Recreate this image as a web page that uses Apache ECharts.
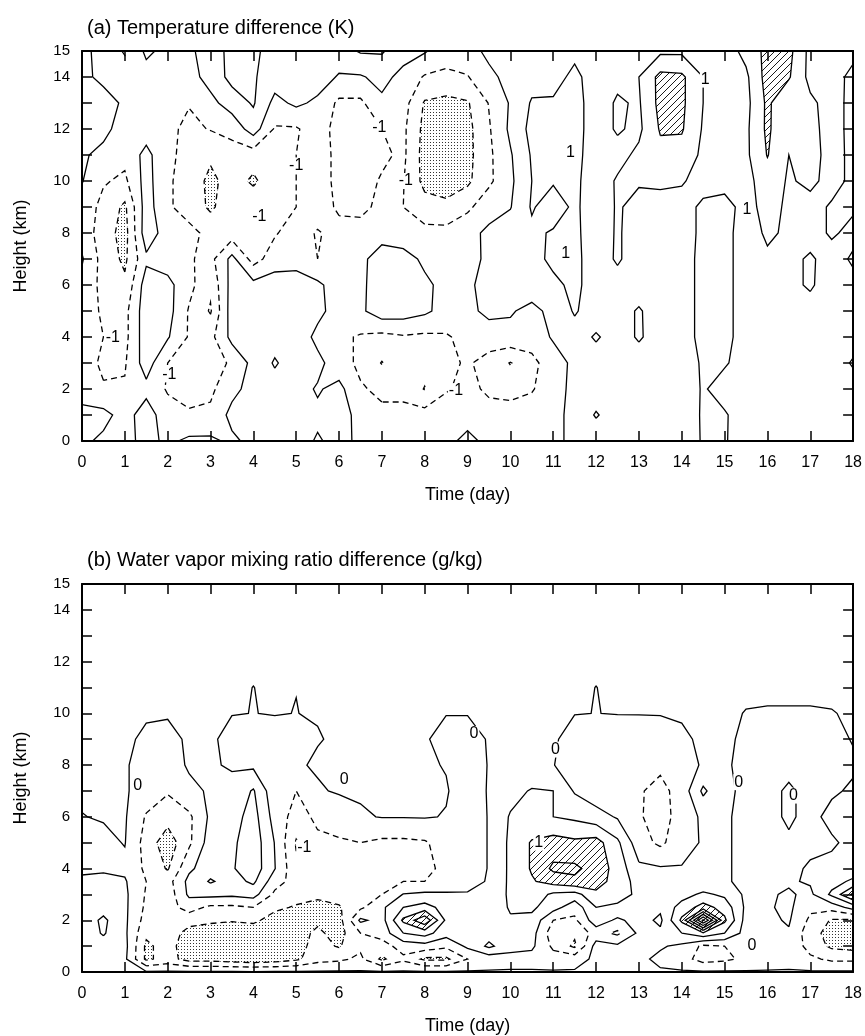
<!DOCTYPE html>
<html>
<head>
<meta charset="utf-8">
<script src="https://cdn.jsdelivr.net/npm/echarts@6/dist/echarts.min.js"></script>
<style>
  html, body { margin: 0; padding: 0; background: #fff; }
  #chart { width: 865px; height: 1036px; }
</style>
</head>
<body>
<div id="chart"></div>
<script>
// ---- grid coordinates ----
const days = [0,0.5,1,1.5,2,2.5,3,3.5,4,4.5,5,5.5,6,6.5,7,7.5,8,8.5,9,9.5,10,10.5,11,11.5,12,12.5,13,13.5,14,14.5,15,15.5,16,16.5,17,17.5,18];
const heightsA = [0,1,2,3,4,5,6,7,8,9,10,11,12,13,14,15];
const heightsB = [0,0.5,1,1.5,2,2.5,3,3.5,4,5,6,7,8,9,10,11,12,13,14,15];

// ---- (a) temperature difference (K), one row per height in heightsA, one column per day ----
const tempDiff = [
  [0.2,-0.2,-0.3,0.3,-0.2,0.2,0.2,-0.2,0.3,0.3,0.4,-0.1,0.3,-0.2,-0.3,-0.3,-0.4,-0.2,0.2,-0.2,-0.2,-0.2,-0.1,0.1,0.3,0.4,0.4,0.3,0.4,1.1,1.1,0.4,0.4,0.4,0.3,0.4,0.3],
  [0.2,0.3,-0.4,0.5,-0.6,-0.9,-0.8,0.3,0.5,0.6,0.5,0.2,0.4,-0.3,-0.8,-0.7,-0.6,-0.4,-0.3,-0.6,-0.5,-0.4,-0.2,0.2,1.1,0.4,0.5,0.5,0.5,1.1,1.1,0.5,0.5,0.5,0.5,0.5,0.5],
  [-0.3,-0.9,-0.9,-0.3,-1.1,-1.3,-1.2,-0.3,0.4,0.6,0.4,-0.1,0.3,-0.9,-1.2,-1.3,-2.05,-1.1,-0.7,-1.2,-1.4,-1.1,-0.3,0.2,0.4,0.5,0.5,0.5,0.4,1.1,0.6,0.5,0.5,0.5,0.5,0.5,0.6],
  [-0.5,-1.2,-1.1,0.5,-1.0,-1.3,-1.6,-0.8,0.3,1.1,0.5,0.3,-0.6,-1.2,-2.05,-1.3,-1.6,-1.2,-0.9,-1.3,-2.05,-1.3,-0.4,0.2,0.6,0.5,0.6,0.5,0.6,1.1,1.1,0.6,0.6,0.5,0.6,0.5,1.1],
  [-0.4,-1.0,-1.3,0.6,0.1,-1.1,-1.3,0.3,0.5,0.6,0.7,-0.3,-0.8,-1.1,-1.3,-1.1,-1.2,-1.1,-0.7,-0.6,-0.3,-0.5,0.1,0.6,1.1,0.6,1.1,0.6,0.7,1.2,1.2,0.7,0.8,0.8,0.7,0.6,0.6],
  [-0.3,-1.2,-1.3,0.6,0.4,-1.1,-2.1,0.5,0.4,0.6,0.6,0.3,-0.5,-0.2,0.6,0.5,0.2,-0.4,-0.3,0.3,0.1,-0.3,0.3,1.1,0.5,0.6,1.1,0.5,0.7,1.2,1.2,0.7,0.8,0.8,0.7,0.6,0.6],
  [-0.3,-1.3,-1.8,0.5,0.3,-0.7,-1.8,0.4,0.3,0.5,0.5,0.2,-0.5,-0.2,0.5,0.6,0.2,-0.3,-0.2,0.4,0.6,0.6,0.8,1.2,0.6,0.7,0.5,0.4,0.7,1.2,1.2,0.7,0.8,0.8,1.1,0.6,0.8],
  [0.1,-1.4,-2.2,-0.2,-0.5,-0.9,-1.3,0.3,-1.4,-0.5,-0.4,-1.0,-0.6,-0.3,0.6,0.4,-0.2,-0.6,-0.5,0.3,0.6,0.7,1.2,1.2,0.6,1.1,0.6,0.4,0.7,1.2,1.2,0.7,0.9,0.8,1.1,0.7,1.1],
  [-0.4,-1.5,-2.4,0.6,-0.5,-0.8,-1.2,-1.5,-1.6,-1.1,-0.5,-1.1,-0.6,-0.7,-0.5,-0.6,-0.7,-0.7,-0.3,0.2,0.5,0.8,1.1,1.2,0.5,1.1,0.6,0.5,0.6,1.2,1.2,0.7,1.1,0.9,0.7,1.1,0.8],
  [-0.4,-1.3,-2.2,0.5,-0.9,-1.3,-2.2,-1.3,-1.2,-1.2,-1.0,-0.4,-1.2,-1.2,-0.8,-1.0,-1.6,-1.7,-1.2,-0.4,-0.05,1.1,0.5,1.2,0.4,1.1,0.7,0.6,0.6,1.2,1.2,0.8,1.2,0.9,0.7,1.1,1.1],
  [0.05,-0.9,-1.2,0.4,-0.9,-1.3,-2.3,-1.5,-2.2,-1.3,-1.0,-0.5,-1.3,-1.4,-0.9,-0.95,-2.3,-2.6,-2.2,-1.2,-0.2,1.0,1.1,1.2,0.5,1.1,1.1,1.2,1.1,0.6,0.8,0.7,1.5,0.9,1.2,0.7,1.2],
  [0.15,-0.3,-0.7,0.3,-0.8,-1.3,-1.8,-1.4,-1.5,-1.2,-1.0,-0.5,-1.3,-1.5,-1.2,-0.8,-2.4,-2.7,-2.3,-1.2,-0.1,1.1,1.2,1.3,0.5,0.7,1.2,1.7,1.6,0.8,0.6,0.8,2.05,1.0,1.3,0.7,1.2],
  [0.5,0.3,-0.5,-0.5,-0.8,-1.2,-0.95,-0.7,0.5,-1.1,-1.1,-0.5,-1.4,-1.5,-1.0,-0.8,-2.3,-2.5,-2.3,-1.1,0.2,1.3,1.3,1.3,0.6,1.1,0.8,2.1,2.1,0.9,0.6,0.8,2.2,1.0,1.3,0.6,1.3],
  [0.4,0.5,-0.2,-0.5,-0.6,-0.95,-0.3,0.5,1.1,-0.3,0.2,-0.2,-1.2,-1.2,-0.2,-0.6,-2.1,-2.3,-2.1,-0.95,0.1,1.1,1.1,1.3,0.6,1.1,0.9,2.3,2.2,1.0,0.6,0.7,2.2,1.1,1.2,0.6,1.3],
  [0.3,-0.3,-0.5,-0.4,-0.5,-0.4,0.4,1.3,1.1,0.5,0.8,0.5,-0.1,-0.1,0.3,-0.3,-1.1,-1.2,-1.05,-0.3,0.4,0.6,0.7,1.2,0.6,0.8,1.0,2.3,2.2,1.0,0.6,0.8,2.4,2.1,0.7,0.7,1.2],
  [0.3,-0.4,-1.1,0.2,-0.3,-0.2,0.5,1.3,1.2,0.6,0.8,0.7,0.6,1.1,1.1,0.4,0.1,-0.6,-0.5,0.3,0.5,0.6,0.5,0.8,0.6,0.7,0.9,0.8,0.8,0.9,0.5,1.3,2.3,2.3,0.7,0.6,0.8]
];

// ---- (b) water vapor mixing ratio difference (g/kg), one row per height in heightsB ----
const qvDiff = [
  [0.05,0.05,0.05,0.05,0.05,0.05,0.05,0.05,0.05,0.05,0.05,0.05,0.05,0.05,0.05,0.05,0.05,0.05,0.05,0.05,0.05,0.05,0.05,0.05,0.05,0.05,0.05,0.05,0.05,0.05,0.05,0.05,0.05,0.05,0.05,0.05,0.05],
  [0.1,0.2,0.1,-1.1,-0.8,-1.2,-1.2,-1.3,-1.4,-1.3,-1.1,-0.7,-0.6,-0.4,-1.1,-0.6,-1.1,-1.1,-0.5,-0.3,-0.2,-0.2,-0.3,-0.2,0.1,0.1,0.1,-0.1,-0.3,-0.7,-0.6,-0.4,-0.3,-0.2,-0.4,-0.6,-0.6],
  [0.15,0.3,0.15,-1.1,-0.8,-1.3,-1.4,-1.5,-1.5,-1.4,-1.2,-0.8,-1.05,-0.6,-0.7,-0.3,-0.2,-0.4,0.1,0.6,0.2,0.1,-0.6,-1.1,0.2,0.1,0.15,0.05,-0.1,-0.6,-0.5,-0.02,-0.2,-0.1,-0.7,-1.1,-1.2],
  [0.2,0.55,0.1,-0.9,-0.7,-1.2,-1.3,-1.4,-1.3,-1.2,-1.2,-0.9,-1.2,-0.5,-0.3,0.5,0.7,0.2,0.2,0.3,0.3,0.2,-0.8,-0.9,-0.3,-0.6,0.1,0.1,0.5,0.9,0.5,-0.2,-0.1,-0.05,-0.8,-1.2,-1.3],
  [0.2,0.6,0.1,-0.7,-0.6,-0.8,-0.9,-0.95,-0.9,-1.2,-1.3,-1.1,-1.2,0.1,-0.2,1.1,1.9,0.4,0.2,0.2,0.45,0.35,-0.5,-0.6,0.3,-0.1,0.2,-0.1,1.1,3.6,1.1,-0.2,-0.1,0.05,-0.6,-1.05,-1.1],
  [0.15,0.3,0.1,-0.6,-0.7,-0.3,-0.6,-0.6,-0.5,-0.9,-1.05,-1.15,-1.05,-0.6,-0.1,0.5,0.7,0.3,0.2,0.2,0.55,0.6,0.2,-0.3,0.5,0.4,0.3,0.1,0.7,1.2,0.8,-0.1,-0.05,0.1,-0.4,-0.3,0.2],
  [0.1,0.2,0.1,-0.55,-0.8,0.1,0.15,0.1,0.2,-0.6,-0.8,-0.9,-0.8,-0.7,-0.5,0.02,0.1,0.1,0.05,0.1,0.6,0.8,0.4,0.3,0.9,0.7,0.4,0.2,0.3,0.6,0.4,-0.1,-0.05,0.05,-0.1,0.6,1.6],
  [0.05,0.1,0.05,-0.5,-0.7,0.15,0.55,0.3,0.6,-0.3,-0.7,-0.7,-0.6,-0.6,-0.6,-0.5,-0.5,-0.5,-0.2,0.05,0.6,0.95,1.2,1.4,1.2,0.8,0.3,0.15,0.1,0.1,0.05,-0.1,-0.1,-0.05,0.05,0.3,0.6],
  [-0.05,-0.05,-0.1,-0.6,-1.05,-0.1,0.3,0.45,0.8,0.02,-0.9,-0.95,-0.55,-0.55,-0.6,-0.7,-0.6,-0.4,-0.3,0.03,0.6,1.05,1.6,1.6,1.3,0.8,0.1,0.05,0.03,0.05,0.05,-0.1,-0.1,-0.1,0.05,0.1,0.2],
  [-0.1,-0.1,0.02,-0.7,-1.3,-0.6,0.25,0.4,0.8,-0.02,-1.05,-0.6,-0.55,-0.5,-0.6,-0.6,-0.55,-0.3,-0.3,0.03,0.6,1.05,1.2,1.1,1.2,0.6,-0.3,-0.6,-0.2,0.05,0.05,-0.1,-0.1,-0.05,-0.1,-0.05,0.1],
  [-0.01,0.03,0.05,-0.55,-0.8,-0.6,0.1,0.3,0.7,-0.2,-0.7,-0.4,-0.3,-0.05,0.02,0.02,0.03,-0.02,-0.3,0.03,0.55,0.6,0.5,0.4,0.2,-0.05,-0.45,-0.7,-0.3,0.1,0.05,-0.1,-0.1,0.05,-0.1,0.1,0.25],
  [0.05,0.05,0.05,-0.2,-0.45,-0.1,0.05,0.15,0.55,-0.35,-0.5,-0.05,0.05,0.05,0.05,0.05,0.05,0.03,-0.2,0.03,0.3,0.55,0.5,-0.05,-0.3,-0.2,-0.45,-0.65,-0.3,0.6,0.05,-0.05,-0.1,0.05,-0.1,-0.05,0.05],
  [0.05,0.05,0.05,-0.2,-0.2,0.05,0.05,-0.05,-0.1,-0.3,-0.05,0.05,0.05,0.05,0.05,0.05,0.05,-0.02,-0.2,0.02,0.05,0.05,0.02,-0.3,-0.3,-0.25,-0.3,-0.4,-0.2,0.05,0.05,-0.1,-0.15,-0.1,-0.15,-0.1,-0.05],
  [0.05,0.05,0.05,-0.05,-0.1,0.05,0.05,-0.1,-0.1,-0.1,-0.1,-0.02,0.05,0.05,0.05,0.05,0.03,-0.1,-0.1,0.02,0.05,0.05,0.05,-0.15,-0.2,-0.2,-0.15,-0.1,-0.05,0.05,0.05,-0.05,-0.1,-0.1,-0.1,-0.1,0.02],
  [0.05,0.05,0.05,0.03,0.03,0.05,0.05,0.01,-0.003,0.01,-0.003,0.02,0.05,0.05,0.05,0.05,0.05,0.01,0.01,0.05,0.05,0.05,0.05,0.01,-0.003,0.01,0.01,0.01,0.03,0.05,0.05,-0.01,-0.02,-0.02,-0.02,-0.01,0.03],
  [0.05,0.05,0.05,0.05,0.05,0.05,0.05,0.05,-0.003,0.05,0.002,0.05,0.05,0.05,0.05,0.05,0.05,0.05,0.05,0.05,0.05,0.05,0.05,0.05,-0.003,0.05,0.05,0.05,0.05,0.05,0.05,0.05,0.05,0.05,0.05,0.05,0.05],
  [0.05,0.05,0.05,0.05,0.05,0.05,0.05,0.05,0.05,0.05,0.05,0.05,0.05,0.05,0.05,0.05,0.05,0.05,0.05,0.05,0.05,0.05,0.05,0.05,0.05,0.05,0.05,0.05,0.05,0.05,0.05,0.05,0.05,0.05,0.05,0.05,0.05],
  [0.05,0.05,0.05,0.05,0.05,0.05,0.05,0.05,0.05,0.05,0.05,0.05,0.05,0.05,0.05,0.05,0.05,0.05,0.05,0.05,0.05,0.05,0.05,0.05,0.05,0.05,0.05,0.05,0.05,0.05,0.05,0.05,0.05,0.05,0.05,0.05,0.05],
  [0.05,0.05,0.05,0.05,0.05,0.05,0.05,0.05,0.05,0.05,0.05,0.05,0.05,0.05,0.05,0.05,0.05,0.05,0.05,0.05,0.05,0.05,0.05,0.05,0.05,0.05,0.05,0.05,0.05,0.05,0.05,0.05,0.05,0.05,0.05,0.05,0.05],
  [0.05,0.05,0.05,0.05,0.05,0.05,0.05,0.05,0.05,0.05,0.05,0.05,0.05,0.05,0.05,0.05,0.05,0.05,0.05,0.05,0.05,0.05,0.05,0.05,0.05,0.05,0.05,0.05,0.05,0.05,0.05,0.05,0.05,0.05,0.05,0.05,0.05]
];

// ---- contour levels; negative ones are dashed ----
const tempLevels = [-3, -2, -1, 0, 1, 2, 3];
const qvLevels = [-2, -1.5, -1, -0.5, 0, 0.5, 1, 1.5, 2, 2.5, 3, 3.5];
// stippled below / hatched above these values
const tempShade = { low: -2, high: 2 };
const qvShade = { low: -1, high: 1 };

// ---- contour labels: [day, height, text] ----
const tempLabels = [
  [6.94, 12.05, '-1'], [5.0, 10.6, '-1'], [7.56, 10.0, '-1'], [4.14, 8.65, '-1'],
  [0.72, 3.97, '-1'], [2.04, 2.56, '-1'], [8.73, 1.92, '-1'],
  [14.55, 13.9, '1'], [11.4, 11.1, '1'], [11.29, 7.2, '1'], [15.52, 8.9, '1']
];
const qvLabels = [
  [1.3, 7.2, '0'], [6.12, 7.44, '0'], [5.19, 4.8, '-1'], [9.15, 9.2, '0'], [11.05, 8.6, '0'],
  [15.33, 7.34, '0'], [16.61, 6.82, '0'], [15.64, 1.03, '0'], [10.66, 5.0, '1']
];

const titles = ['(a) Temperature difference (K)', '(b) Water vapor mixing ratio difference (g/kg)'];
const xName = 'Time (day)';
const yName = 'Height (km)';
const FONT = '"Liberation Sans", Arial, Helvetica, sans-serif';

// ---- fill patterns ----
function hatchPattern() {
  const s = 7, c = document.createElement('canvas');
  c.width = s; c.height = s;
  const g = c.getContext('2d');
  g.strokeStyle = '#000'; g.lineWidth = 0.9;
  g.beginPath();
  g.moveTo(-1, s + 1); g.lineTo(s + 1, -1);
  g.moveTo(-1, 1); g.lineTo(1, -1);
  g.moveTo(s - 1, s + 1); g.lineTo(s + 1, s - 1);
  g.stroke();
  return { image: c, repeat: 'repeat' };
}
function stipplePattern() {
  const s = 3, c = document.createElement('canvas');
  c.width = s; c.height = s;
  const g = c.getContext('2d');
  g.fillStyle = '#333';
  g.fillRect(1, 1, 1, 1);
  return { image: c, repeat: 'repeat' };
}
const HATCH = hatchPattern();
const STIPPLE = stipplePattern();

// ---- marching squares ----
function cellInfo(z, xs, ys, i, j) {
  return {
    v: [z[j][i], z[j][i + 1], z[j + 1][i + 1], z[j + 1][i]],
    c: [[xs[i], ys[j]], [xs[i + 1], ys[j]], [xs[i + 1], ys[j + 1]], [xs[i], ys[j + 1]]],
    k: ['h' + i + '_' + j, 'v' + (i + 1) + '_' + j, 'h' + i + '_' + (j + 1), 'v' + i + '_' + j]
  };
}
function edgePoint(cell, e, L) {
  const a = e, b = (e + 1) % 4;
  const t = (L - cell.v[a]) / (cell.v[b] - cell.v[a]);
  return [cell.c[a][0] + t * (cell.c[b][0] - cell.c[a][0]), cell.c[a][1] + t * (cell.c[b][1] - cell.c[a][1])];
}
function contourChains(z, xs, ys, L) {
  const segs = [], pts = {};
  for (let j = 0; j < ys.length - 1; j++) {
    for (let i = 0; i < xs.length - 1; i++) {
      const cell = cellInfo(z, xs, ys, i, j);
      const up = cell.v.map(x => x >= L);
      const cross = [];
      for (let e = 0; e < 4; e++) if (up[e] !== up[(e + 1) % 4]) cross.push(e);
      if (!cross.length) continue;
      cross.forEach(e => { if (!pts[cell.k[e]]) pts[cell.k[e]] = edgePoint(cell, e, L); });
      if (cross.length === 2) {
        segs.push([cell.k[cross[0]], cell.k[cross[1]]]);
      } else {
        const centerUp = (cell.v[0] + cell.v[1] + cell.v[2] + cell.v[3]) / 4 >= L;
        for (let k = 0; k < 4; k++) {
          if (up[k] !== centerUp) segs.push([cell.k[(k + 3) % 4], cell.k[k]]);
        }
      }
    }
  }
  const byKey = {};
  segs.forEach((s, idx) => s.forEach(key => (byKey[key] = byKey[key] || []).push(idx)));
  const used = new Array(segs.length).fill(false);
  const chains = [];
  function walk(startIdx, startKey) {
    used[startIdx] = true;
    const s = segs[startIdx];
    let cur = s[0] === startKey ? s[1] : s[0];
    const keys = [startKey, cur];
    for (;;) {
      const next = (byKey[cur] || []).find(id => !used[id]);
      if (next === undefined) break;
      used[next] = true;
      cur = segs[next][0] === cur ? segs[next][1] : segs[next][0];
      keys.push(cur);
    }
    chains.push(keys.map(k => pts[k]));
  }
  // open chains start at the grid boundary
  segs.forEach((s, idx) => {
    if (used[idx]) return;
    const free = s.find(key => byKey[key].length === 1);
    if (free !== undefined) walk(idx, free);
  });
  segs.forEach((s, idx) => { if (!used[idx]) walk(idx, s[0]); });
  return chains;
}
// polygons of the part of each cell on one side of a level (sign 1: above, -1: below)
function regionPath(z, xs, ys, L, sign, toPx) {
  let d = '';
  for (let j = 0; j < ys.length - 1; j++) {
    for (let i = 0; i < xs.length - 1; i++) {
      const raw = cellInfo(z, xs, ys, i, j);
      const cell = { v: raw.v.map(x => x * sign), c: raw.c };
      const LL = L * sign;
      const inside = cell.v.map(x => x >= LL);
      if (!inside.some(Boolean)) continue;
      const poly = [];
      for (let k = 0; k < 4; k++) {
        if (inside[k]) poly.push(cell.c[k]);
        if (inside[k] !== inside[(k + 1) % 4]) poly.push(edgePoint(cell, k, LL));
      }
      poly.forEach((p, n) => {
        const q = toPx(p);
        d += (n ? 'L' : 'M') + q[0].toFixed(2) + ' ' + q[1].toFixed(2);
      });
      d += 'Z';
    }
  }
  return d;
}

function makeRenderer(z, xs, ys, levels, shade, labels) {
  return function (params, api) {
    const toPx = p => api.coord(p);
    const children = [];
    const low = regionPath(z, xs, ys, shade.low, -1, toPx);
    if (low) children.push({ type: 'path', shape: { pathData: low }, style: { fill: STIPPLE, stroke: null } });
    const high = regionPath(z, xs, ys, shade.high, 1, toPx);
    if (high) children.push({ type: 'path', shape: { pathData: high }, style: { fill: HATCH, stroke: null } });
    levels.forEach(L => {
      contourChains(z, xs, ys, L).forEach(chain => {
        const style = { stroke: '#000', lineWidth: 1.3, fill: null };
        if (L < 0) style.lineDash = [6, 4];
        children.push({ type: 'polyline', shape: { points: chain.map(toPx) }, style });
      });
    });
    labels.forEach(([x, y, t]) => {
      const p = toPx([x, y]);
      children.push({
        type: 'text', x: p[0], y: p[1],
        style: { text: t, fontSize: 16, fontFamily: FONT, fill: '#000', align: 'center', verticalAlign: 'middle', backgroundColor: '#fff', padding: [0, 1] }
      });
    });
    return { type: 'group', children };
  };
}

// ---- axes ----
const axisLine = { show: true, onZero: false, lineStyle: { color: '#000', width: 2 } };
const tick = { show: true, inside: true, length: 10, lineStyle: { color: '#000', width: 1.5 } };
function xAxes(gridIndex) {
  return [
    { gridIndex, type: 'value', min: 0, max: 18, interval: 1, position: 'bottom', axisLine, axisTick: tick,
      splitLine: { show: false },
      axisLabel: { fontSize: 16, color: '#000', fontFamily: FONT, margin: 14 },
      name: xName, nameLocation: 'middle', nameGap: 45,
      nameTextStyle: { fontSize: 18, color: '#000', fontFamily: FONT } },
    { gridIndex, type: 'value', min: 0, max: 18, interval: 1, position: 'top', axisLine, axisTick: tick,
      splitLine: { show: false }, axisLabel: { show: false } }
  ];
}
function yAxes(gridIndex) {
  return [
    { gridIndex, type: 'value', min: 0, max: 15, interval: 1, position: 'left', axisLine, axisTick: tick,
      splitLine: { show: false },
      axisLabel: { fontSize: 15, color: '#000', fontFamily: FONT, margin: 12,
        formatter: v => (v % 2 === 0 || v === 15) ? String(v) : '' },
      name: yName, nameLocation: 'middle', nameGap: 52,
      nameTextStyle: { fontSize: 18, color: '#000', fontFamily: FONT } },
    { gridIndex, type: 'value', min: 0, max: 15, interval: 1, position: 'right', axisLine, axisTick: tick,
      splitLine: { show: false }, axisLabel: { show: false } }
  ];
}

const chart = echarts.init(document.getElementById('chart'), null, { renderer: 'canvas' });
chart.setOption({
  animation: false,
  backgroundColor: '#fff',
  title: [
    { text: titles[0], left: 82, top: 13, textStyle: { fontSize: 20, fontWeight: 'normal', color: '#000', fontFamily: FONT } },
    { text: titles[1], left: 82, top: 545, textStyle: { fontSize: 20, fontWeight: 'normal', color: '#000', fontFamily: FONT } }
  ],
  grid: [
    { left: 82, top: 51, width: 774, height: 390 },
    { left: 82, top: 584, width: 774, height: 389 }
  ],
  xAxis: [...xAxes(0), ...xAxes(1)],
  yAxis: [...yAxes(0), ...yAxes(1)],
  series: [
    { type: 'custom', xAxisIndex: 0, yAxisIndex: 0, silent: true, data: [[0, 0]],
      renderItem: makeRenderer(tempDiff, days, heightsA, tempLevels, tempShade, tempLabels) },
    { type: 'custom', xAxisIndex: 2, yAxisIndex: 2, silent: true, data: [[0, 0]],
      renderItem: makeRenderer(qvDiff, days, heightsB, qvLevels, qvShade, qvLabels) }
  ]
});
</script>
</body>
</html>
